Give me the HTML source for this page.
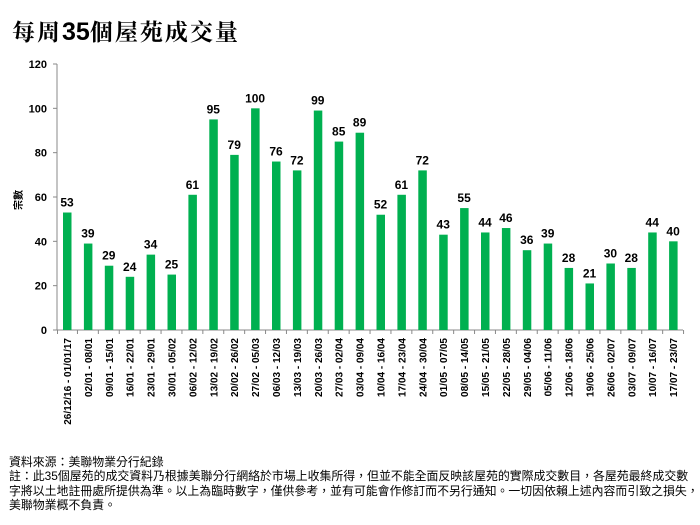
<!DOCTYPE html>
<html><head><meta charset="utf-8"><style>
body{margin:0;width:700px;height:525px;background:#fff;overflow:hidden;font-family:"Liberation Sans","Noto Sans CJK TC",sans-serif}
.fn{position:absolute;left:9px;font-size:11.9px;line-height:14.3px;color:#000;white-space:nowrap}
</style></head><body>
<div style="position:absolute;left:12px;top:14px;font-size:23px;font-weight:bold;font-family:'Noto Serif CJK SC','Liberation Serif',serif;letter-spacing:2px">每周<b style="font-family:'Liberation Sans',sans-serif;font-size:25px;letter-spacing:0">35</b>個屋苑成交量</div>
<svg width="700" height="525" style="position:absolute;left:0;top:0" font-family="Liberation Sans, sans-serif">
<g id="g"></g>
</svg>
<div class="fn" style="top:455px">資料來源：美聯物業分行紀錄<br>註：此35個屋苑的成交資料乃根據美聯分行網絡於市場上收集所得，但並不能全面反映該屋苑的實際成交數目，各屋苑最終成交數<br>字將以土地註冊處所提供為準。以上為臨時數字，僅供參考，並有可能會作修訂而不另行通知。一切因依賴上述內容而引致之損失，<br>美聯物業概不負責。</div>
<script>
var v=[53,39,29,24,34,25,61,95,79,100,76,72,99,85,89,52,61,72,43,55,44,46,36,39,28,21,30,28,44,40];
var l=["26/12/16 - 01/01/17","02/01 - 08/01","09/01 - 15/01","16/01 - 22/01","23/01 - 29/01","30/01 - 05/02","06/02 - 12/02","13/02 - 19/02","20/02 - 26/02","27/02 - 05/03","06/03 - 12/03","13/03 - 19/03","20/03 - 26/03","27/03 - 02/04","03/04 - 09/04","10/04 - 16/04","17/04 - 23/04","24/04 - 30/04","01/05 - 07/05","08/05 - 14/05","15/05 - 21/05","22/05 - 28/05","29/05 - 04/06","05/06 - 11/06","12/06 - 18/06","19/06 - 25/06","26/06 - 02/07","03/07 - 09/07","10/07 - 16/07","17/07 - 23/07"];
var s='',Y=function(x){return 330-x*2.2167};
s+='<line x1="57" y1="64" x2="57" y2="330" stroke="#888"/><line x1="57" y1="330" x2="683" y2="330" stroke="#888"/>';
for(var t=0;t<=120;t+=20){var y=Y(t);s+='<line x1="53" y1="'+y+'" x2="57" y2="'+y+'" stroke="#888"/><text x="47" y="'+(y+4)+'" text-anchor="end" font-size="11" font-weight="bold">'+t+'</text>';}
for(var i=0;i<30;i++){var c=67+i*20.9,y=Y(v[i]);
s+='<rect x="'+(c-4)+'" y="'+y+'" width="8.5" height="'+(330-y)+'" fill="#00B050"/>';
s+='<text x="'+c+'" y="'+(y-6)+'" text-anchor="middle" font-size="12" font-weight="bold">'+v[i]+'</text>';
var tx=c+10.45;s+='<line x1="'+tx+'" y1="330" x2="'+tx+'" y2="334" stroke="#888"/>';
s+='<text transform="translate('+(c+4)+',338) rotate(-90)" text-anchor="end" font-size="10" font-weight="bold">'+l[i]+'</text>';}
s+='<line x1="57.5" y1="330" x2="57.5" y2="334" stroke="#888"/>';
s+='<text transform="translate(22,200) rotate(-90)" text-anchor="middle" font-size="10" font-weight="bold" font-family="Noto Sans CJK TC, sans-serif">宗數</text>';
document.getElementById('g').innerHTML=s;
</script>
</body></html>
